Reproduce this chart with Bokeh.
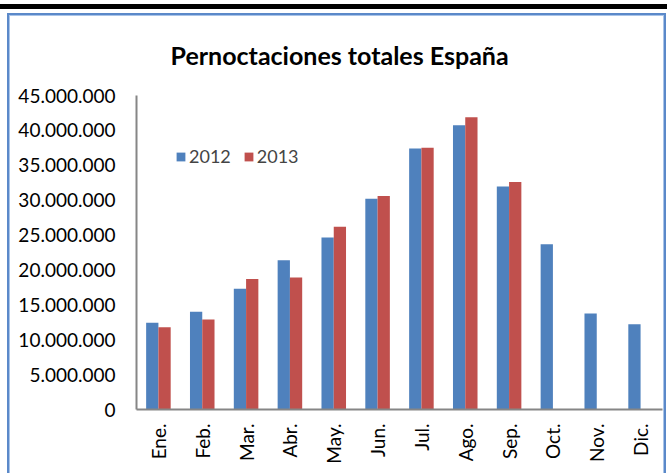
import math
from bokeh.plotting import figure
from bokeh.models import FactorRange, Range1d, FixedTicker, Legend, LegendItem, ColumnDataSource
from bokeh.transform import dodge
from bokeh.embed import file_html
from bokeh.resources import INLINE

nan = float("nan")

months = ["Ene.", "Feb.", "Mar.", "Abr.", "May.", "Jun.", "Jul.", "Ago.", "Sep.", "Oct.", "Nov.", "Dic."]
y2012 = [12.43e6, 14.0e6, 17.3e6, 21.4e6, 24.65e6, 30.2e6, 37.4e6, 40.75e6, 31.95e6, 23.7e6, 13.75e6, 12.2e6]
y2013 = [11.8e6, 12.9e6, 18.7e6, 18.9e6, 26.2e6, 30.6e6, 37.5e6, 41.9e6, 32.6e6, nan, nan, nan]
series = ["2012", "2013"]
y_ticks = [0, 5000000, 10000000, 15000000, 20000000, 25000000, 30000000, 35000000, 40000000, 45000000]
y_tick_labels = ["0", "5.000.000", "10.000.000", "15.000.000", "20.000.000", "25.000.000",
                 "30.000.000", "35.000.000", "40.000.000", "45.000.000"]
title = "Pernoctaciones totales España"

FONT = "Lato"
BLUE = "#4F81BD"
RED = "#C0504D"
FRAME_DARK = "#5B89C9"
FRAME_LIGHT = "#A9C4E8"

src = ColumnDataSource(dict(m=months, a=y2012, b=y2013))

p = figure(x_range=FactorRange(*months, range_padding=0), y_range=Range1d(0, 45000000),
           width=667, height=473, output_backend="svg", toolbar_location=None,
           min_border_left=136, min_border_right=5, min_border_top=95, min_border_bottom=64)

r1 = p.vbar(x=dodge("m", -0.14, range=p.x_range), top="a", width=0.28, source=src,
            fill_color=BLUE, line_color=None)
r2 = p.vbar(x=dodge("m", 0.14, range=p.x_range), top="b", width=0.28, source=src,
            fill_color=RED, line_color=None)

p.title.text = title
p.title.align = "left"
p.title.offset = 34
p.title.text_font = FONT
p.title.text_font_style = "bold"
p.title.text_font_size = "25px"
p.title.text_color = "#000000"
p.title.standoff = 51

p.xgrid.grid_line_color = None
p.ygrid.grid_line_color = None
p.outline_line_color = None
p.border_fill_color = None
p.background_fill_color = "#FFFFFF"

for ax in (p.xaxis, p.yaxis):
    ax.axis_line_color = "#868686"
    ax.axis_line_width = 2
    ax.major_tick_in = 0
    ax.major_tick_out = 0
    ax.minor_tick_in = 0
    ax.minor_tick_out = 0
    ax.major_label_text_font = FONT
    ax.major_label_text_font_size = "19px"
    ax.major_label_text_color = "#000000"

p.yaxis.ticker = FixedTicker(ticks=y_ticks)
p.yaxis.major_label_overrides = {t: l for t, l in zip(y_ticks, y_tick_labels)}
p.yaxis.major_label_standoff = 21
p.xaxis.major_label_orientation = math.pi / 2
p.xaxis.major_label_standoff = 14

legend = Legend(items=[LegendItem(label=series[0], renderers=[r1]),
                       LegendItem(label=series[1], renderers=[r2])],
                orientation="horizontal", location=(39, 242),
                border_line_color=None, background_fill_alpha=0,
                glyph_width=11, glyph_height=11, label_standoff=3, spacing=12,
                padding=0, margin=0, label_text_font=FONT, label_text_font_size="18px",
                label_height=18)
p.add_layout(legend)

# chart-area border (blue double line) and black rule at the top, drawn as CSS backgrounds
layers = [
    ("#000000", "0px 4px", "100% 5px"),
    (FRAME_DARK, "7px 13px", "659px 2px"),
    (FRAME_LIGHT, "9px 15px", "655px 1px"),
    (FRAME_DARK, "7px 13px", "2px 100%"),
    (FRAME_LIGHT, "9px 15px", "1px 100%"),
    (FRAME_DARK, "664px 13px", "2px 100%"),
    (FRAME_LIGHT, "663px 15px", "1px 100%"),
]
p.styles = {
    "background-color": "#FFFFFF",
    "background-image": ", ".join(f"linear-gradient({c}, {c})" for c, _, _ in layers),
    "background-position": ", ".join(pos for _, pos, _ in layers),
    "background-size": ", ".join(sz for _, _, sz in layers),
    "background-repeat": "no-repeat",
}

open("out.html", "w").write(file_html(p, INLINE))
